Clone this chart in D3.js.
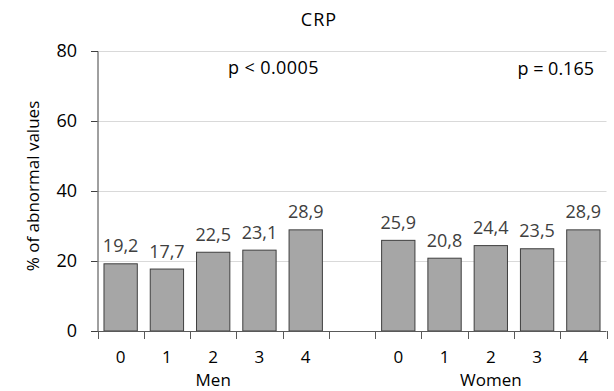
<!DOCTYPE html>
<html>
<head>
<meta charset="utf-8">
<script src="https://cdn.jsdelivr.net/npm/d3@7"></script>
<style>
  html, body { margin: 0; padding: 0; background: #fff; }
  svg { display: block; font-family: "Open Sans", "Liberation Sans", sans-serif; }
</style>
</head>
<body>
<svg id="chart" width="614" height="391"></svg>
<script>
// CRP: share of abnormal values by score, men and women
const scores = ["0", "1", "2", "3", "4"];
const menValues = [19.2, 17.7, 22.5, 23.1, 28.9];
const womenValues = [25.9, 20.8, 24.4, 23.5, 28.9];
const groups = ["Men", "Women"];
const pValues = ["p < 0.0005", "p = 0.165"];
const yTicks = [0, 20, 40, 60, 80];

// one band per bar, with an empty band separating the two groups
const rows = [];
scores.forEach((s, i) => rows.push({ key: "M" + s, label: s, value: menValues[i], group: 0 }));
rows.push({ key: "gap", label: "", value: null, group: -1 });
scores.forEach((s, i) => rows.push({ key: "W" + s, label: s, value: womenValues[i], group: 1 }));

const svg = d3.select("#chart");
const plotLeft = 97.5, plotRight = 606.5, plotTop = 51, plotBottom = 331;
const FONT = "'Open Sans', 'Liberation Sans', sans-serif";

const x = d3.scaleBand().domain(rows.map(d => d.key)).range([plotLeft, plotRight]).padding(0);
const y = d3.scaleLinear().domain([0, 80]).range([plotBottom, plotTop]);
const barW = x.bandwidth() * 0.72;

// gridlines
svg.append("g").selectAll("line").data(yTicks.filter(t => t > 0)).join("line")
  .attr("x1", plotLeft).attr("x2", plotRight)
  .attr("y1", d => Math.round(y(d)) + 0.5).attr("y2", d => Math.round(y(d)) + 0.5)
  .attr("stroke", "#d9d9d9").attr("stroke-width", 1);

// y axis
const yAxis = svg.append("g").attr("transform", `translate(${plotLeft},0)`)
  .call(d3.axisLeft(y).tickValues(yTicks).tickSize(6.5).tickPadding(14));
yAxis.select(".domain").attr("stroke", "#404040");
yAxis.selectAll(".tick line").attr("stroke", "#404040");
yAxis.selectAll(".tick text").attr("font-size", 18).attr("fill", "#000")
  .attr("font-family", FONT);

// bars
const bars = rows.filter(d => d.value !== null);
svg.append("g").selectAll("rect").data(bars).join("rect")
  .attr("x", d => x(d.key) + (x.bandwidth() - barW) / 2)
  .attr("y", d => y(d.value))
  .attr("width", barW)
  .attr("height", d => y(0) - y(d.value))
  .attr("fill", "#a6a6a6")
  .attr("stroke", "#3f3f3f")
  .attr("stroke-width", 1);

// value labels
svg.append("g").selectAll("text").data(bars).join("text")
  .attr("x", d => x(d.key) + x.bandwidth() / 2)
  .attr("y", d => y(d.value) - 11.5)
  .attr("text-anchor", "middle")
  .attr("font-size", 18)
  .attr("fill", "#404040")
  .text(d => d.value.toFixed(1).replace(".", ","));

// x axis line and band-boundary ticks
svg.append("line")
  .attr("x1", plotLeft).attr("x2", plotRight)
  .attr("y1", plotBottom + 0.5).attr("y2", plotBottom + 0.5)
  .attr("stroke", "#595959");
const boundaries = rows.map(d => x(d.key)).concat([plotRight]);
svg.append("g").selectAll("line").data(boundaries).join("line")
  .attr("x1", d => Math.round(d) + 0.5).attr("x2", d => Math.round(d) + 0.5)
  .attr("y1", plotBottom).attr("y2", plotBottom + 8)
  .attr("stroke", "#595959");

// category labels
svg.append("g").selectAll("text").data(bars).join("text")
  .attr("x", d => x(d.key) + x.bandwidth() / 2)
  .attr("y", 363)
  .attr("text-anchor", "middle")
  .attr("font-size", 17)
  .attr("fill", "#000")
  .text(d => d.label);

// group labels
groups.forEach((g, gi) => {
  const members = rows.filter(d => d.group === gi);
  const cx = (x(members[0].key) + x(members[members.length - 1].key) + x.bandwidth()) / 2;
  svg.append("text")
    .attr("x", cx).attr("y", 386)
    .attr("text-anchor", "middle")
    .attr("font-size", 17)
    .attr("fill", "#000")
    .text(g);
});

// y axis title
svg.append("text")
  .attr("transform", "translate(38.5,186) rotate(-90)")
  .attr("text-anchor", "middle")
  .attr("font-size", 17)
  .attr("fill", "#000")
  .text("% of abnormal values");

// chart title
svg.append("text")
  .attr("x", 319).attr("y", 26)
  .attr("text-anchor", "middle")
  .attr("font-size", 18)
  .attr("letter-spacing", 1)
  .attr("fill", "#000")
  .text("CRP");

// significance notes
svg.append("text")
  .attr("x", 228).attr("y", 74)
  .attr("font-size", 18)
  .attr("letter-spacing", 0.4)
  .attr("fill", "#000")
  .text(pValues[0]);
svg.append("text")
  .attr("x", 594).attr("y", 75)
  .attr("text-anchor", "end")
  .attr("font-size", 18)
  .attr("fill", "#000")
  .text(pValues[1]);
</script>
</body>
</html>
